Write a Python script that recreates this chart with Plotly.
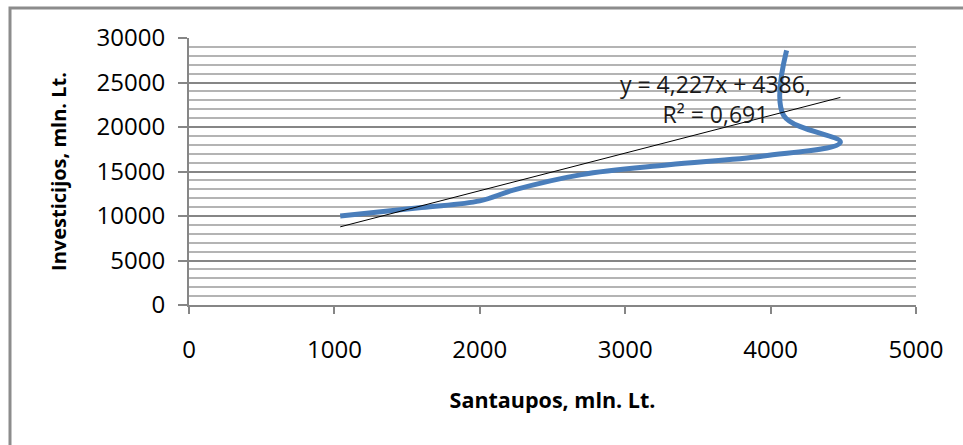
import plotly.graph_objects as go

# Data
santaupos = [1040, 1600, 2000, 2230, 2700, 3300, 3950, 4480, 4090, 4110]
investicijos = [10000, 10950, 11700, 12900, 14650, 15750, 16750, 18300, 21300, 28600]
trend_slope = 4.227
trend_intercept = 4386
trend_label = "y = 4,227x + 4386,<br>R² = 0,691"
x_ticks = [0, 1000, 2000, 3000, 4000, 5000]
y_ticks = [0, 5000, 10000, 15000, 20000, 25000, 30000]

FONT = "'Open Sans', Lato, sans-serif"
W, H = 963, 445
ML, MR, MT, MB = 189, 47, 38, 140

tx = [min(santaupos), max(santaupos)]
ty = [trend_slope * v + trend_intercept for v in tx]

fig = go.Figure()
fig.add_trace(go.Scatter(
    x=santaupos, y=investicijos, mode="lines",
    line=dict(color="#4a7ebb", width=5, shape="spline", smoothing=1),
    showlegend=False, hoverinfo="x+y"))
fig.add_trace(go.Scatter(
    x=tx, y=ty, mode="lines",
    line=dict(color="#000000", width=1),
    showlegend=False, hoverinfo="skip"))

pw = W - ML - MR
ph = H - MT - MB

fig.update_layout(
    width=W, height=H,
    margin=dict(l=ML, r=MR, t=MT, b=MB, pad=0, autoexpand=False),
    paper_bgcolor="white", plot_bgcolor="white",
    font=dict(family=FONT, size=21, color="#000000"),
    xaxis=dict(
        range=[0, 5000], tickvals=x_ticks, ticktext=[str(v) for v in x_ticks],
        showgrid=False, zeroline=False, automargin=False,
        showline=True, linecolor="#868686", linewidth=2,
        ticks="outside", ticklen=7, tickcolor="#868686", tickwidth=2,
        ticklabelstandoff=15,
        tickfont=dict(family=FONT, size=24, color="#000000"),
        title=dict(text="<b>Santaupos, mln. Lt.</b>", standoff=29,
                   font=dict(family=FONT, size=21.5, color="#000000")),
        fixedrange=True,
    ),
    yaxis=dict(
        range=[0, 30000], tickvals=y_ticks, ticktext=[str(v) for v in y_ticks],
        showgrid=True, gridcolor="#868686", gridwidth=2,
        zeroline=False, automargin=False,
        showline=True, linecolor="#868686", linewidth=2,
        ticks="outside", ticklen=9, tickcolor="#868686", tickwidth=2,
        ticklabelstandoff=8,
        tickfont=dict(family=FONT, size=24, color="#000000"),
        minor=dict(dtick=1000, showgrid=True, gridcolor="#b4b4b4", gridwidth=1.5, ticks=""),
        title=dict(text="<b>Investicijos, mln. Lt.</b>", standoff=25,
                   font=dict(family=FONT, size=20, color="#000000")),
        fixedrange=True,
    ),
    annotations=[dict(
        x=3618, y=23150, xref="x", yref="y", text=trend_label,
        showarrow=False, xanchor="center", yanchor="middle", align="center",
        font=dict(family=FONT, size=23, color="#1a1a1a"))],
    shapes=[dict(
        type="rect", xref="paper", yref="paper",
        x0=(10 - ML) / pw, x1=(W + 20 - ML) / pw,
        y0=-(H + 20 - MT - ph) / ph, y1=1 + (MT - 8) / ph,
        line=dict(color="#8c8c8c", width=3), fillcolor="rgba(0,0,0,0)", layer="below")],
)

fig.write_html("out.html", config={"displayModeBar": False},
               post_script="document.body.style.margin='0';")
